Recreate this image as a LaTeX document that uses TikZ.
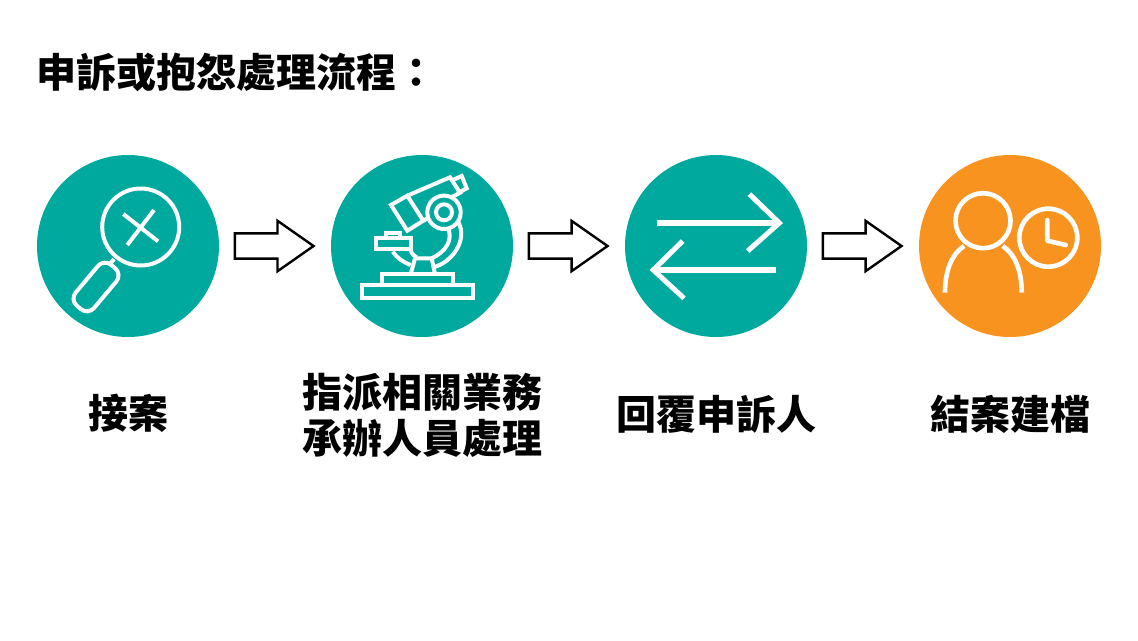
\documentclass[tikz,border=0pt]{standalone}
\usepackage{fontspec}
\usetikzlibrary{shapes, arrows.meta, positioning}
\newfontfamily\cjk[BoldFont={Noto Sans CJK TC Black}]{Noto Sans CJK TC}
\definecolor{tealfill}{HTML}{00A99D}
\definecolor{orangefill}{HTML}{F7931E}
\tikzstyle{stepcircle} = [circle, minimum size=136.5pt, inner sep=0pt, outer sep=0pt]
\tikzstyle{flowarrow} = [draw=black, line width=1.8pt, fill=white, single arrow, inner sep=0pt, inner ysep=8.6pt, minimum height=59pt, single arrow head extend=9.4pt, single arrow tip angle=70]
\tikzstyle{steplabel} = [font=\cjk\bfseries\fontsize{30pt}{34.5pt}\selectfont, align=center]
\tikzstyle{iconline} = [draw=white, line width=3pt]

\begin{document}
\begin{tikzpicture}[x=.75pt,y=-.75pt]
  \useasboundingbox (0,0) rectangle (1138,640);
  \node[steplabel, anchor=west] (title) at (32,72) {申訴或抱怨處理流程：};
  \node[stepcircle, fill=tealfill] (accept) at (128,246) {};
  \node[stepcircle, fill=tealfill, right=84pt of accept] (assign) {};
  \node[stepcircle, fill=tealfill, right=84pt of assign] (reply) {};
  \node[stepcircle, fill=orangefill, right=84pt of reply] (close) {};
  \node[flowarrow, right=11pt of accept] (arrow0) {};
  \node[flowarrow, right=11pt of assign] (arrow1) {};
  \node[flowarrow, right=11pt of reply] (arrow2) {};
  \node[steplabel] (acceptlabel) at (128,413) {接案};
  \node[steplabel] (assignlabel) at (422,415) {指派相關業務\\承辦人員處理};
  \node[steplabel] (replylabel) at (716,414) {回覆申訴人};
  \node[steplabel] (closelabel) at (1010,414) {結案建檔};

  \draw[iconline] (140.7,227) circle[radius=38.5];
  \draw[iconline] (123.3,214) -- (158,241.3);
  \draw[iconline] (154,210) -- (127.3,245);
  \draw[iconline] (114,259) -- (110,264);
  \node[draw=white, line width=3pt, rectangle, rounded corners=7pt, rotate=50, minimum width=40pt, minimum height=18pt, inner sep=0pt] (handle) at (96,287) {};

  \draw[iconline] (362.3,285) rectangle (472.7,297.7);
  \draw[iconline] (382.3,285) |- (452.7,274) -- (452.7,285);
  \draw[iconline] (410.7,274) -- (415,258.3) -- (431.7,258.3) -- (435,274);
  \draw[iconline] (376,238.3) rectangle (410.7,249);
  \draw[iconline] (386,238.3) |- (400,233.3) -- (400,238.3);
  \draw[iconline] (392.7,251.7) .. controls (397,258) and (403,262) .. (410.7,265);
  \draw[iconline] (410.7,250) .. controls (411,253) and (414,256) .. (416.7,257.3);
  \draw[iconline] (435,266.7) .. controls (452,262) and (468,240) .. (458.3,222);
  \draw[iconline] (431.7,258.3) .. controls (445,252) and (455,240) .. (446.7,225);
  \draw[iconline] (391,205) -- (407.3,195.7) -- (423.3,220.7) -- (407.3,230.7) -- cycle;
  \draw[iconline] (407.3,195.7) -- (450,177.3) -- (460,192.7) -- (452,197);
  \draw[iconline] (423.3,220.7) -- (431,216);
  \draw[iconline] (450.7,181) -- (461.7,176) -- (466.7,188.3) -- (457.3,193.3);
  \draw[iconline, fill=tealfill] (444,212.3) circle[radius=16.7];
  \draw[iconline] (444,212.3) circle[radius=8];

  \draw[draw=white, line width=3.8pt] (656.7,223) -- (778,223);
  \draw[draw=white, line width=3.8pt] (749.3,194) -- (779.3,223) -- (747.7,251);
  \draw[draw=white, line width=3.8pt] (775.7,270) -- (655,270);
  \draw[draw=white, line width=3.8pt] (682.7,241) -- (653.3,270) -- (684,298.3);

  \draw[iconline, line width=3.5pt] (983,220.7) circle[radius=27.5];
  \draw[iconline, line width=3.5pt] (945,292.7) .. controls (945,270) and (952,254) .. (964,246);
  \draw[iconline, line width=3.5pt] (1021.7,292.7) .. controls (1021.7,270) and (1014.7,254) .. (1002.7,246);
  \draw[iconline, line width=3.5pt] (1048.3,237.7) circle[radius=29];
  \draw[iconline, line width=3.5pt, line cap=round, line join=round] (1047.3,220) -- (1047.3,240.7) -- (1065.7,245);
\end{tikzpicture}
\end{document}
